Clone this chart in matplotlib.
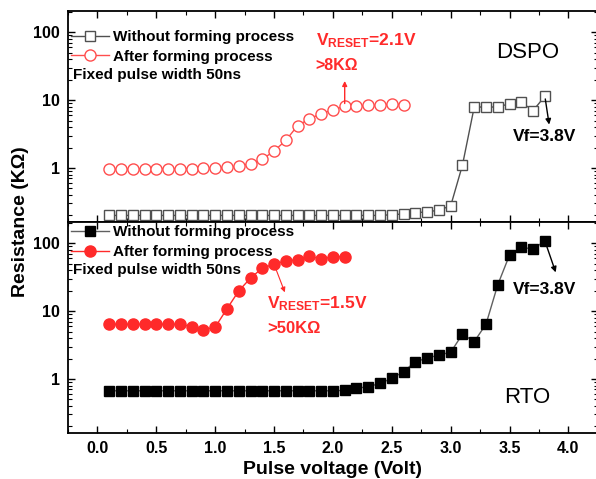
import matplotlib
matplotlib.use("Agg")
import matplotlib.pyplot as plt
from matplotlib.ticker import LogLocator, NullFormatter, MultipleLocator

plt.rcParams['font.family'] = ['Liberation Sans', 'DejaVu Sans']
plt.rcParams['font.weight'] = 'bold'
plt.rcParams['mathtext.fontset'] = 'custom'
plt.rcParams['mathtext.rm'] = 'Liberation Sans:bold'
plt.rcParams['mathtext.bf'] = 'Liberation Sans:bold'
plt.rcParams['mathtext.default'] = 'rm'

# pulse voltages (V)
v_full = [round(0.1 * i, 1) for i in range(1, 39)]   # 0.1 .. 3.8
v_dspo_after = [round(0.1 * i, 1) for i in range(1, 27)]  # 0.1 .. 2.6
v_rto_after = [round(0.1 * i, 1) for i in range(1, 22)]   # 0.1 .. 2.1

# DSPO resistances (KOhm)
dspo_without = [0.2, 0.2, 0.2, 0.2, 0.2, 0.2, 0.2, 0.2, 0.2, 0.2,
                0.2, 0.2, 0.2, 0.2, 0.2, 0.2, 0.2, 0.2, 0.2, 0.2,
                0.2, 0.2, 0.2, 0.2, 0.205, 0.21, 0.22, 0.225, 0.24, 0.276,
                1.1, 7.9, 7.9, 7.9, 8.85, 9.3, 7.0, 11.4]
dspo_after = [0.96, 0.96, 0.96, 0.98, 0.98, 0.98, 0.98, 0.98, 0.99, 1.0,
              1.02, 1.07, 1.16, 1.34, 1.78, 2.55, 4.2, 5.3, 6.3, 7.2,
              8.1, 8.1, 8.35, 8.35, 8.85, 8.5]

# RTO resistances (KOhm)
rto_without = [0.67, 0.67, 0.67, 0.67, 0.67, 0.67, 0.67, 0.67, 0.67, 0.67,
               0.67, 0.67, 0.67, 0.67, 0.67, 0.67, 0.67, 0.67, 0.67, 0.67,
               0.68, 0.73, 0.77, 0.86, 1.02, 1.28, 1.8, 2.02, 2.26, 2.47,
               4.57, 3.55, 6.4, 24.4, 67, 87, 82, 108]
rto_after = [6.4, 6.4, 6.4, 6.4, 6.4, 6.4, 6.4, 5.9, 5.3, 5.8,
             10.8, 19.8, 30.6, 43, 49, 55, 57, 65, 58, 63.5, 63.5]

RED = '#ff2a2a'
RED_LIGHT = '#ff4d4d'
GRAY = '#505050'

fig = plt.figure(figsize=(5.96, 4.79), dpi=100)
ax_top = fig.add_axes([0.1141, 0.5365, 0.889, 0.4405])
ax_bot = fig.add_axes([0.1141, 0.096, 0.889, 0.4405], sharex=ax_top)

ax_top.plot(v_full, dspo_without, '-s', color=GRAY, lw=1, ms=6.5, mfc='white',
            mec=GRAY, mew=1, label='Without forming process')
ax_top.plot(v_dspo_after, dspo_after, '-o', color=RED_LIGHT, lw=1, ms=8, mfc='white',
            mec=RED_LIGHT, mew=1, label='After forming process')

ax_bot.plot(v_full, rto_without, '-s', color='#606060', lw=1, ms=6.5, mfc='black',
            mec='black', label='Without forming process')
ax_bot.plot(v_rto_after, rto_after, '-o', color=RED, lw=1, ms=8, mfc=RED,
            mec=RED, label='After forming process')

for ax in (ax_top, ax_bot):
    ax.set_yscale('log')
    ax.set_ylim(0.16, 205)
    ax.set_xlim(-0.25, 4.25)
    ax.xaxis.set_major_locator(MultipleLocator(0.5))
    ax.xaxis.set_minor_locator(MultipleLocator(0.25))
    ax.yaxis.set_minor_locator(LogLocator(base=10, subs=range(2, 10), numticks=10))
    ax.yaxis.set_minor_formatter(NullFormatter())
    ax.set_yticks([1, 10, 100])
    ax.set_yticklabels(['1', '10', '100'])
    ax.tick_params(which='both', direction='in', top=True, right=True, labelsize=11.5)
    ax.tick_params(which='major', length=5, width=1, pad=6)
    ax.tick_params(which='minor', length=3, width=0.8)
    for s in ax.spines.values():
        s.set_linewidth(1.3)
    for lab in ax.get_xticklabels() + ax.get_yticklabels():
        lab.set_fontweight('bold')

ax_top.tick_params(labelbottom=False)

leg_kw = dict(frameon=False, fontsize=11, handlelength=2.5, handletextpad=0.3,
              labelspacing=0.38, borderaxespad=0, borderpad=0)
leg = ax_top.legend(loc='upper left', bbox_to_anchor=(0.005, 0.91), **leg_kw)
leg2 = ax_bot.legend(loc='upper left', bbox_to_anchor=(0.005, 0.985), **leg_kw)
for lg in (leg, leg2):
    for t in lg.get_texts():
        t.set_fontweight('bold')

ax_top.text(0.01, 0.697, 'Fixed pulse width 50ns', transform=ax_top.transAxes,
            fontsize=11, fontweight='bold', va='center')
ax_bot.text(0.01, 0.773, 'Fixed pulse width 50ns', transform=ax_bot.transAxes,
            fontsize=11, fontweight='bold', va='center')

# top panel annotations
ax_top.text(1.86, 63.7, r'V$_{\mathregular{RESET}}$=2.1V', color=RED, fontsize=12.5,
            fontweight='bold', va='baseline')
ax_top.text(1.85, 32.4, '>8KΩ', color=RED, fontsize=11.5, fontweight='bold', va='center')
ax_top.annotate('', xy=(2.1, 21), xytext=(2.1, 8.1),
                arrowprops=dict(arrowstyle='-|>', color=RED, lw=1, mutation_scale=7))
ax_top.text(3.65, 50, 'DSPO', fontsize=16, fontweight='normal', ha='center', va='center')
ax_top.text(3.53, 2.93, 'Vf=3.8V', fontsize=12.5, fontweight='bold', va='center')
ax_top.annotate('', xy=(3.84, 3.97), xytext=(3.8, 11.4),
                arrowprops=dict(arrowstyle='-|>', color='black', lw=1, mutation_scale=8))

# bottom panel annotations
ax_bot.text(1.44, 11.1, r'V$_{\mathregular{RESET}}$=1.5V', color=RED, fontsize=12.5,
            fontweight='bold', va='baseline')
ax_bot.text(1.44, 5.46, '>50KΩ', color=RED, fontsize=12, fontweight='bold', va='center')
ax_bot.annotate('', xy=(1.6, 17.3), xytext=(1.5, 49),
                arrowprops=dict(arrowstyle='-|>', color=RED, lw=0.8, mutation_scale=7))
ax_bot.text(3.53, 20.5, 'Vf=3.8V', fontsize=12.5, fontweight='bold', va='center')
ax_bot.annotate('', xy=(3.9, 34), xytext=(3.8, 108),
                arrowprops=dict(arrowstyle='-|>', color='black', lw=1, mutation_scale=8))
ax_bot.text(3.65, 0.54, 'RTO', fontsize=16, fontweight='normal', ha='center', va='center')

ax_bot.set_xlabel('Pulse voltage (Volt)', fontsize=14, fontweight='bold', labelpad=3)
fig.text(0.035, 1 - 222 / 479, 'Resistance (KΩ)', rotation=90, fontsize=14,
         fontweight='bold', ha='center', va='center')

fig.savefig('out.png', dpi=100)
